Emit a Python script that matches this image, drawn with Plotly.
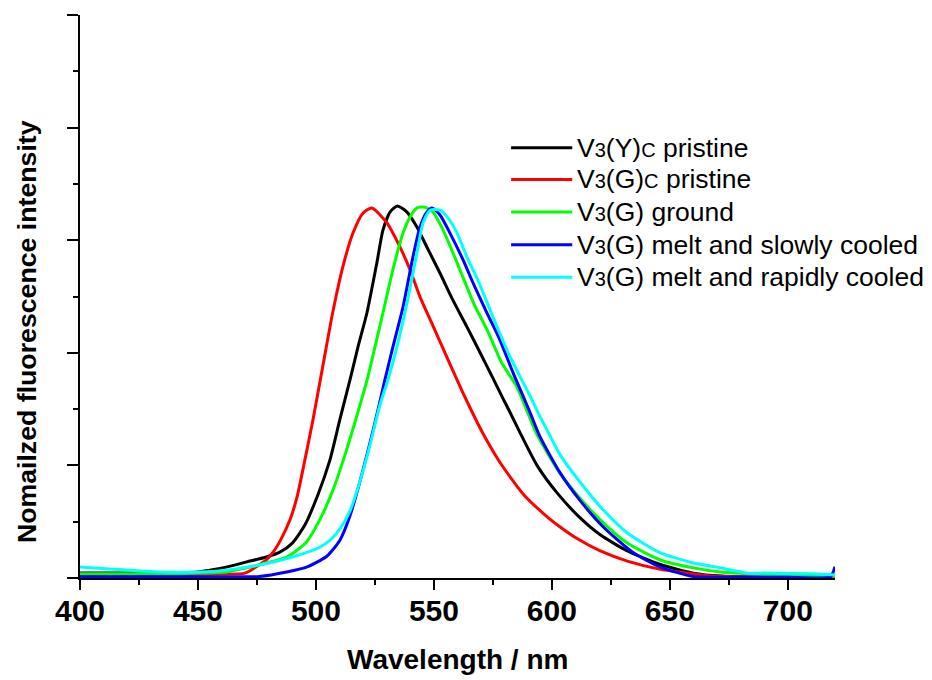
import plotly.graph_objects as go

# Emission spectra: wavelength (nm) and normalized intensity for each sample
wl_yc = [400, 430, 450, 455, 462, 470.7, 479, 484.7, 490, 495.3, 500.8, 505.9, 510.1, 514.4, 517.8,
         521.6, 525.8, 528.4, 531.4, 534.5, 538.6, 542.8, 547, 552.6, 558, 564, 569.6, 574.8, 579.3,
         582.3, 586.6, 593.7, 602.3, 612, 620.5, 632, 646, 660, 672, 690, 720]
int_yc = [0.013, 0.013, 0.016, 0.021, 0.029, 0.043, 0.056, 0.069, 0.093, 0.141, 0.221, 0.314, 0.421,
          0.527, 0.615, 0.706, 0.839, 0.927, 0.975, 0.991, 0.975, 0.935, 0.882, 0.812, 0.741, 0.669,
          0.600, 0.535, 0.478, 0.441, 0.386, 0.300, 0.226, 0.160, 0.115, 0.072, 0.036, 0.013, 0.005,
          0.002, 0.002]

wl_gc = [400, 420, 440, 460, 470, 476, 479, 482, 485, 489, 492, 495.3, 498.7, 502.5, 507.2, 511.4,
         515.7, 519.9, 523.7, 530.1, 535.6, 539.9, 544.1, 549.6, 556.8, 562.4, 566.6, 570.8,
         578.1, 587.8, 598.0, 603.5, 610.7, 620.5, 632.0, 646.0, 660.0, 668, 680, 700, 720]
int_gc = [0.009, 0.008, 0.008, 0.010, 0.013, 0.035, 0.048, 0.070, 0.101, 0.155, 0.216, 0.314, 0.420,
          0.550, 0.710, 0.829, 0.919, 0.972, 0.986, 0.946, 0.882, 0.821, 0.749, 0.672, 0.570, 0.492,
          0.437, 0.385, 0.307, 0.224, 0.163, 0.136, 0.105, 0.072, 0.045, 0.023, 0.011, 0.005,
          0.003, 0.002, 0.002]

wl_ground = [400, 440, 450.7, 462, 470.7, 479, 487.6, 493.2, 496, 501.6, 507.2, 512.3, 517, 522, 525,
             528.4, 532.6, 536.9, 539.9, 542.8, 546.2, 549.6, 553.9, 558.1, 562.4, 567, 573, 578.6,
             585.2, 590, 593.7, 602.8, 612, 620.5, 632, 646, 660, 671.5, 685, 697, 720]
int_ground = [0.011, 0.011, 0.013, 0.016, 0.027, 0.040, 0.056, 0.080, 0.096, 0.155, 0.234, 0.328,
              0.425, 0.535, 0.615, 0.706, 0.821, 0.919, 0.962, 0.986, 0.988, 0.975, 0.927, 0.866,
              0.800, 0.730, 0.655, 0.575, 0.509, 0.437, 0.382, 0.285, 0.212, 0.155, 0.093, 0.048,
              0.027, 0.016, 0.011, 0.008, 0.005]

wl_slow = [400, 440, 470, 476, 487.6, 496, 504.6, 510.1, 514.4, 518.7, 522.9, 526.3, 529.2, 532.6,
           536.9, 541.1, 544.1, 547, 549.2, 552.6, 556.8, 562.4, 566.6, 572.5, 578, 583.6, 587.9,
           590.8, 595, 603.5, 612, 621.8, 634.6, 646, 660, 680, 700, 718, 720]
int_slow = [0.003, 0.003, 0.003, 0.004, 0.016, 0.029, 0.058, 0.100, 0.165, 0.258, 0.360, 0.448, 0.527,
            0.615, 0.722, 0.855, 0.935, 0.975, 0.986, 0.967, 0.919, 0.847, 0.786, 0.706, 0.634, 0.546,
            0.483, 0.440, 0.376, 0.280, 0.206, 0.136, 0.067, 0.029, 0.004, 0.002, 0.002, 0.003, 0.030]

wl_rapid = [400, 412.5, 433.8, 450.7, 462, 476, 490, 501.6, 505.9, 510.1, 514.4, 518.7, 522.9, 527.1,
            530.5, 534.3, 538.6, 542.8, 545.4, 548.4, 552.6, 555.6, 559.8, 564, 568.9, 574.4, 581,
            587.2, 590.8, 593.7, 599.3, 603.5, 612, 621.8, 632, 646, 660, 671.5, 683, 690, 711, 720]
int_rapid = [0.029, 0.024, 0.016, 0.016, 0.021, 0.035, 0.056, 0.082, 0.100, 0.130, 0.178, 0.258, 0.354,
             0.461, 0.527, 0.615, 0.733, 0.866, 0.946, 0.980, 0.980, 0.962, 0.919, 0.855, 0.790,
             0.705, 0.607, 0.528, 0.485, 0.446, 0.378, 0.328, 0.255, 0.181, 0.120, 0.067, 0.040,
             0.027, 0.013, 0.013, 0.011, 0.008]

small = '<span style="font-size:20px">{}</span>'
series_names = [
    "V" + small.format("3") + "(Y)" + small.format("C") + " pristine",
    "V" + small.format("3") + "(G)" + small.format("C") + " pristine",
    "V" + small.format("3") + "(G) ground",
    "V" + small.format("3") + "(G) melt and slowly cooled",
    "V" + small.format("3") + "(G) melt and rapidly cooled",
]
series_colors = ["#000000", "#ff0000", "#00ff00", "#0000ff", "#00ffff"]
series_x = [wl_yc, wl_gc, wl_ground, wl_slow, wl_rapid]
series_y = [int_yc, int_gc, int_ground, int_slow, int_rapid]

FONT = "Liberation Sans, Arial, sans-serif"

fig = go.Figure()
for xs, ys, name, color in zip(series_x, series_y, series_names, series_colors):
    fig.add_trace(go.Scatter(
        x=xs, y=ys, mode="lines", name=name, showlegend=False,
        line=dict(color=color, width=3, shape="spline", smoothing=0.6),
    ))

# Legend drawn as short line segments with labels
legend_rows = [0.764, 0.708, 0.650, 0.592, 0.534]
shapes = []
annotations = []
for row_y, name, color in zip(legend_rows, series_names, series_colors):
    shapes.append(dict(type="line", xref="paper", yref="paper",
                       x0=0.571, x1=0.652, y0=row_y, y1=row_y,
                       line=dict(color=color, width=3)))
    annotations.append(dict(xref="paper", yref="paper", x=0.656, y=row_y,
                            xanchor="left", yanchor="middle", showarrow=False,
                            text=name, font=dict(family=FONT, size=26.5, color="black")))

annotations.append(dict(xref="paper", yref="paper", x=-0.070, y=0.437,
                        xanchor="center", yanchor="middle", showarrow=False, textangle=-90,
                        text="Nomailzed fluorescence intensity",
                        font=dict(family=FONT, size=26.7, color="black", weight="bold")))
annotations.append(dict(xref="paper", yref="paper", x=0.5, y=-0.144,
                        xanchor="center", yanchor="middle", showarrow=False,
                        text="Wavelength / nm",
                        font=dict(family=FONT, size=28, color="black", weight="bold")))

fig.update_layout(
    width=932, height=680,
    margin=dict(l=80, r=97, t=15, b=102),
    paper_bgcolor="white", plot_bgcolor="white",
    shapes=shapes, annotations=annotations,
    font=dict(family=FONT, color="black"),
)
fig.update_xaxes(
    range=[400, 720], showgrid=False, zeroline=False,
    showline=True, linecolor="black", linewidth=2,
    ticks="outside", ticklen=10, tickwidth=2, tickcolor="black",
    dtick=50, tick0=400, ticklabelstandoff=-5,
    tickfont=dict(family=FONT, size=30, color="black", weight="bold"),
    minor=dict(dtick=25, ticks="outside", ticklen=5, tickwidth=2, tickcolor="black", showgrid=False),
)
fig.update_yaxes(
    range=[0, 1.5], showgrid=False, zeroline=False,
    showline=True, linecolor="black", linewidth=2,
    ticks="outside", ticklen=11, tickwidth=2, tickcolor="black",
    dtick=0.3, tick0=0, showticklabels=False,
    minor=dict(dtick=0.15, ticks="outside", ticklen=5, tickwidth=2, tickcolor="black", showgrid=False),
)

fig.write_html("out.html")
